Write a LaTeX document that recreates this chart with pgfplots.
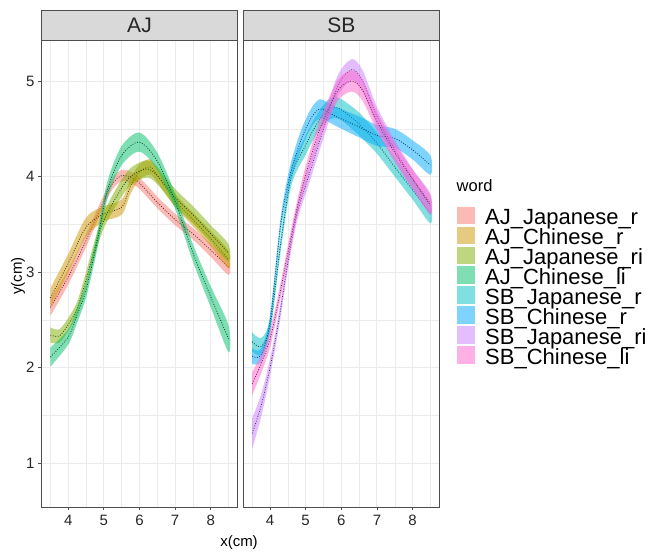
\documentclass[border=0pt]{standalone}
\usepackage{fontspec}
\setmainfont{Liberation Sans}
\usepackage{pgfplots}
\pgfplotsset{compat=1.18}
\usepackage{pgfplotstable}

\definecolor{c1}{HTML}{F8766D}
\definecolor{c2}{HTML}{CD9600}
\definecolor{c3}{HTML}{7CAE00}
\definecolor{c4}{HTML}{00BE67}
\definecolor{c5}{HTML}{00BFC4}
\definecolor{c6}{HTML}{00A9FF}
\definecolor{c7}{HTML}{C77CFF}
\definecolor{c8}{HTML}{FF61CC}
\definecolor{frame}{HTML}{4D4D4D}
\definecolor{gridc}{HTML}{EBEBEB}
\definecolor{stripc}{HTML}{D9D9D9}

% AJ_Japanese_r
\pgfplotstableread{
x y e
3.5 2.63 0.09
4.0 2.95 0.08
4.5 3.33 0.07
5.0 3.75 0.06
5.25 3.93 0.06
5.5 4.01 0.06
5.75 3.99 0.06
6.0 3.93 0.06
6.5 3.73 0.06
7.0 3.55 0.06
7.5 3.40 0.06
8.0 3.23 0.07
8.5 3.05 0.08
}\ajjr
% AJ_Chinese_r
\pgfplotstableread{
x y e
3.5 2.73 0.10
4.0 3.09 0.10
4.5 3.47 0.10
5.0 3.61 0.08
5.5 3.68 0.08
5.75 3.90 0.08
6.0 4.05 0.08
6.3 4.10 0.08
6.5 4.01 0.07
7.0 3.75 0.07
7.5 3.55 0.07
8.0 3.35 0.08
8.5 3.13 0.09
}\ajcr
% AJ_Japanese_ri
\pgfplotstableread{
x y e
3.5 2.34 0.08
3.75 2.33 0.07
4.0 2.45 0.07
4.25 2.62 0.07
4.5 2.92 0.08
4.75 3.26 0.08
5.0 3.54 0.08
5.4 3.82 0.09
5.75 4.00 0.09
6.2 4.08 0.09
6.5 4.01 0.09
7.0 3.78 0.09
7.5 3.60 0.09
8.0 3.40 0.09
8.5 3.20 0.09
}\ajjri
% AJ_Chinese_li
\pgfplotstableread{
x y e
3.5 2.11 0.10
4.0 2.32 0.08
4.25 2.55 0.08
4.5 2.81 0.08
4.8 3.30 0.09
5.1 3.86 0.09
5.5 4.22 0.10
6.0 4.36 0.10
6.5 4.16 0.09
7.0 3.74 0.08
7.5 3.20 0.09
8.0 2.74 0.11
8.5 2.30 0.14
}\ajcli
% SB_Japanese_r
\pgfplotstableread{
x y e
3.5 2.27 0.10
3.75 2.22 0.09
4.0 2.43 0.08
4.3 3.30 0.08
4.6 4.00 0.09
5.0 4.33 0.10
5.25 4.51 0.10
5.5 4.65 0.10
5.75 4.72 0.11
6.0 4.70 0.11
6.5 4.55 0.12
7.0 4.35 0.11
7.5 4.10 0.10
8.0 3.86 0.10
8.5 3.61 0.10
}\sbjr
% SB_Chinese_r
\pgfplotstableread{
x y e
3.5 2.12 0.08
3.75 2.13 0.07
4.0 2.48 0.07
4.3 3.50 0.08
4.55 4.00 0.09
4.8 4.31 0.10
5.0 4.50 0.10
5.2 4.64 0.10
5.4 4.71 0.10
5.6 4.68 0.10
5.9 4.62 0.10
6.5 4.52 0.11
7.0 4.43 0.11
7.5 4.40 0.10
8.0 4.28 0.10
8.5 4.12 0.10
}\sbcr
% SB_Japanese_ri
\pgfplotstableread{
x y e
3.5 1.31 0.16
3.75 1.60 0.12
4.0 2.00 0.09
4.25 2.50 0.08
4.5 3.10 0.08
4.75 3.60 0.08
5.08 4.00 0.09
5.5 4.50 0.10
5.9 4.95 0.11
6.3 5.12 0.11
6.6 5.00 0.11
7.0 4.63 0.10
7.5 4.28 0.10
8.0 3.98 0.10
8.5 3.72 0.10
}\sbjri
% SB_Chinese_li
\pgfplotstableread{
x y e
3.5 1.83 0.12
3.75 2.04 0.10
4.0 2.30 0.09
4.25 2.72 0.08
4.5 3.20 0.08
4.75 3.65 0.08
5.0 4.02 0.09
5.4 4.50 0.10
5.9 4.90 0.11
6.3 5.00 0.11
6.6 4.90 0.11
7.0 4.58 0.10
7.5 4.25 0.10
8.0 3.97 0.10
8.5 3.70 0.10
}\sbcli

% build closed band polygon tables: upper edge forward, lower edge backward
\newcommand{\mkband}[2]{%
  \pgfplotstablesort[sort key=x, sort cmp=float >]{\tmprev}{#1}%
  \pgfplotstablesort[sort key=x, sort cmp=float <]{#2}{#1}%
  \pgfplotstablecreatecol[create col/expr={\thisrow{y}+\thisrow{e}}]{b}{#2}%
  \pgfplotstablecreatecol[create col/expr={\thisrow{y}-\thisrow{e}}]{b}{\tmprev}%
  \pgfplotstablevertcat{#2}{\tmprev}%
}
\mkband{\ajjr}{\ajjrB}
\mkband{\ajcr}{\ajcrB}
\mkband{\ajjri}{\ajjriB}
\mkband{\ajcli}{\ajcliB}
\mkband{\sbjr}{\sbjrB}
\mkband{\sbcr}{\sbcrB}
\mkband{\sbjri}{\sbjriB}
\mkband{\sbcli}{\sbcliB}

\newcommand{\smoothband}[3]{%
  \addplot[fill=#3, fill opacity=0.5, draw=none, smooth, tension=0.5, forget plot] table[x=x, y=b] {#2};
  \addplot[#3!40!black, dash pattern=on 0.9pt off 1.6pt, line width=0.8pt, smooth, tension=0.5, forget plot] table[x=x, y=y] {#1};
}

\pgfplotsset{panel/.style={
  scale only axis, width=196pt, height=467pt,
  xmin=3.25, xmax=8.75, ymin=0.54, ymax=5.43,
  xtick={4,5,6,7,8}, ytick={1,2,3,4,5},
  minor xtick={3.5,4.5,5.5,6.5,7.5,8.5},
  minor ytick={1.5,2.5,3.5,4.5},
  grid=both,
  major grid style={draw=gridc, line width=1pt},
  minor grid style={draw=gridc, line width=0.5pt},
  axis line style={draw=frame, line width=0.8pt},
  xtick pos=bottom, ytick pos=left,
  tick align=outside, major tick length=3.5pt, minor tick length=0pt,
  major tick style={draw=frame, line width=0.8pt},
  /pgf/number format/assume math mode=true,
  ticklabel style={font=\fontsize{15}{15}\selectfont, text=black!85},
  xticklabel style={yshift=-1pt},
  clip=true,
}}

\begin{document}
\begin{tikzpicture}
\path[use as bounding box] (0pt,0pt) rectangle (651pt,553pt);

% AJ panel
\begin{axis}[panel, at={(41.5pt,46pt)}, anchor=south west]
\smoothband{\ajjr}{\ajjrB}{c1}
\smoothband{\ajcr}{\ajcrB}{c2}
\smoothband{\ajjri}{\ajjriB}{c3}
\smoothband{\ajcli}{\ajcliB}{c4}
\end{axis}

% SB panel
\begin{axis}[panel, at={(243.3pt,46pt)}, anchor=south west, yticklabels={}, ytick style={draw=none}]
\smoothband{\sbjr}{\sbjrB}{c5}
\smoothband{\sbcr}{\sbcrB}{c6}
\smoothband{\sbjri}{\sbjriB}{c7}
\smoothband{\sbcli}{\sbcliB}{c8}
\end{axis}

% strips
\draw[fill=stripc, draw=frame, line width=0.8pt] (41.5pt,513pt) rectangle (237.5pt,543pt);
\draw[fill=stripc, draw=frame, line width=0.8pt] (243.3pt,513pt) rectangle (439.3pt,543pt);
\node[font=\fontsize{21}{21}\selectfont, text=black!85] at (139.5pt,527.5pt) {AJ};
\node[font=\fontsize{21}{21}\selectfont, text=black!85] at (341.3pt,527.5pt) {SB};

% axis labels
\node[font=\fontsize{15}{15}\selectfont] at (239pt,10.5pt) {x(cm)};
\node[font=\fontsize{15}{15}\selectfont, rotate=90] at (18pt,277pt) {y(cm)};

% legend
\node[font=\fontsize{16.5}{16.5}\selectfont, anchor=base west, inner sep=0pt] at (456.5pt,361pt) {word};
\foreach \c/\t [count=\i from 0] in {c1/AJ\_Japanese\_r, c2/AJ\_Chinese\_r, c3/AJ\_Japanese\_ri, c4/AJ\_Chinese\_li, c5/SB\_Japanese\_r, c6/SB\_Chinese\_r, c7/SB\_Japanese\_ri, c8/SB\_Chinese\_li}{
  \pgfmathsetmacro{\yy}{553-215.5-19.93*\i}
  \fill[\c, fill opacity=0.5] (457.3pt,\yy pt-8.8pt) rectangle (475pt,\yy pt+8.8pt);
  \node[font=\fontsize{22}{22}\selectfont, anchor=base west, inner sep=0pt] at (485pt,\yy pt-9.5pt) {\t};
}
\end{tikzpicture}
\end{document}
